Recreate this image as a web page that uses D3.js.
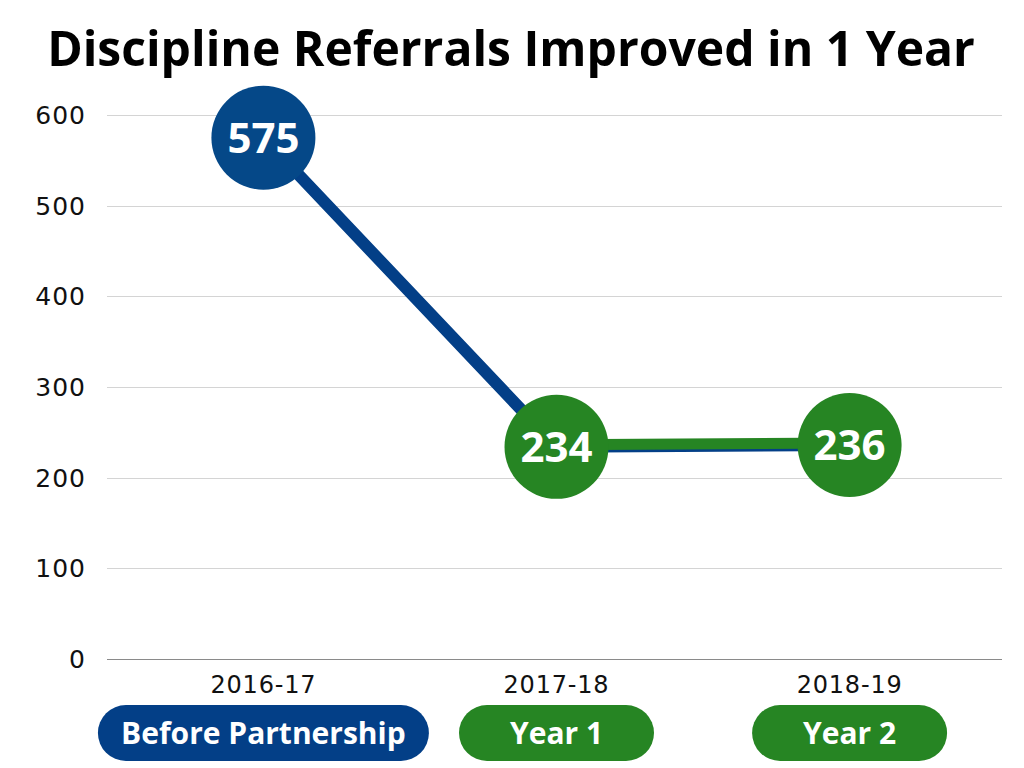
<!DOCTYPE html>
<html>
<head>
<meta charset="utf-8">
<script src="https://cdn.jsdelivr.net/npm/d3@7"></script>
<style>
  body { margin: 0; background: #fff; }
  svg { display: block; }
</style>
</head>
<body>
<div id="chart"></div>
<script>
const width = 1024, height = 768,
  margin = ({ top: 115, right: 22, bottom: 111, left: 107 });

// data
const years = ["2016-17", "2017-18", "2018-19"];
const referrals = [575, 234, 236];
const phases = ["Before Partnership", "Year 1", "Year 2"];
const phaseColors = ["#033f87", "#268523", "#268523"];
const yTicks = [0, 100, 200, 300, 400, 500, 600];

const blue = "#033f87", green = "#268523";

const svg = d3.select("#chart")
  .append("svg")
  .attr("width", width)
  .attr("height", height);

const x = d3.scalePoint()
  .domain(years)
  .range([margin.left + 4, width - margin.right])
  .padding(0.52);

const y = d3.scaleLinear()
  .domain([0, 600])
  .range([height - margin.bottom + 2, margin.top]);

// title, shrink/grow to fit the width of the original
const title = svg.append("text")
  .attr("x", 511)
  .attr("y", 66)
  .attr("text-anchor", "middle")
  .style("font-family", "'Open Sans', sans-serif")
  .style("font-weight", 700)
  .style("font-size", "44px")
  .style("fill", "#000")
  .text("Discipline Referrals Improved in 1 Year");
const tw = title.node().getComputedTextLength();
title.style("font-size", (44 * 928 / tw) + "px");

// gridlines
svg.append("g")
  .selectAll("line")
  .data(yTicks)
  .join("line")
  .attr("x1", margin.left)
  .attr("x2", width - margin.right)
  .attr("y1", d => Math.round(y(d)) + 0.5)
  .attr("y2", d => Math.round(y(d)) + 0.5)
  .attr("stroke", d => d === 0 ? "#8a8a8a" : "#d4d4d4")
  .attr("stroke-width", 1);

// y tick labels
svg.append("g")
  .selectAll("text")
  .data(yTicks)
  .join("text")
  .attr("x", 86)
  .attr("y", d => y(d))
  .attr("dy", "0.36em")
  .attr("text-anchor", "end")
  .style("font-family", "'DejaVu Sans', sans-serif")
  .style("font-size", "25px")
  .style("letter-spacing", "1px")
  .style("fill", "#111")
  .text(d => d);

// x tick labels
svg.append("g")
  .selectAll("text")
  .data(years)
  .join("text")
  .attr("x", d => x(d))
  .attr("y", 693)
  .attr("text-anchor", "middle")
  .style("font-family", "'DejaVu Sans', sans-serif")
  .style("font-size", "24px")
  .style("letter-spacing", "0.8px")
  .style("fill", "#111")
  .text(d => d);

const pts = years.map((d, i) => ({ year: d, value: referrals[i] }));

const line = d3.line()
  .x(d => x(d.year))
  .y(d => y(d.value));

// blue series under, green on top for the partnership years
svg.append("path")
  .datum(pts)
  .attr("d", line)
  .attr("fill", "none")
  .attr("stroke", blue)
  .attr("stroke-width", 12);

svg.append("path")
  .datum(pts.slice(1))
  .attr("d", line)
  .attr("transform", "translate(0,-2)")
  .attr("fill", "none")
  .attr("stroke", green)
  .attr("stroke-width", 11);

// bubbles
const bubble = svg.selectAll(".bubble")
  .data(pts)
  .join("g")
  .attr("class", "bubble");

bubble.append("circle")
  .attr("cx", d => x(d.year))
  .attr("cy", d => y(d.value))
  .attr("r", 52)
  .attr("fill", (d, i) => i === 0 ? "#054888" : green);

bubble.append("text")
  .attr("x", d => x(d.year))
  .attr("y", d => y(d.value))
  .attr("dy", "0.36em")
  .attr("text-anchor", "middle")
  .style("font-family", "'Open Sans', sans-serif")
  .style("font-weight", 700)
  .style("font-size", "42px")
  .style("fill", "#fff")
  .text(d => d.value);

// phase badges under the axis
const badgeW = [331, 195, 195];
const badge = svg.selectAll(".badge")
  .data(phases)
  .join("g")
  .attr("class", "badge")
  .attr("transform", (d, i) => `translate(${x(years[i])},733)`);

badge.append("rect")
  .attr("x", (d, i) => -badgeW[i] / 2)
  .attr("y", -28)
  .attr("width", (d, i) => badgeW[i])
  .attr("height", 56)
  .attr("rx", 28)
  .attr("fill", (d, i) => phaseColors[i]);

badge.append("text")
  .attr("dy", "0.36em")
  .attr("text-anchor", "middle")
  .style("font-family", "'Open Sans', sans-serif")
  .style("font-weight", 700)
  .style("font-size", "30px")
  .style("fill", "#fff")
  .text(d => d);
</script>
</body>
</html>
